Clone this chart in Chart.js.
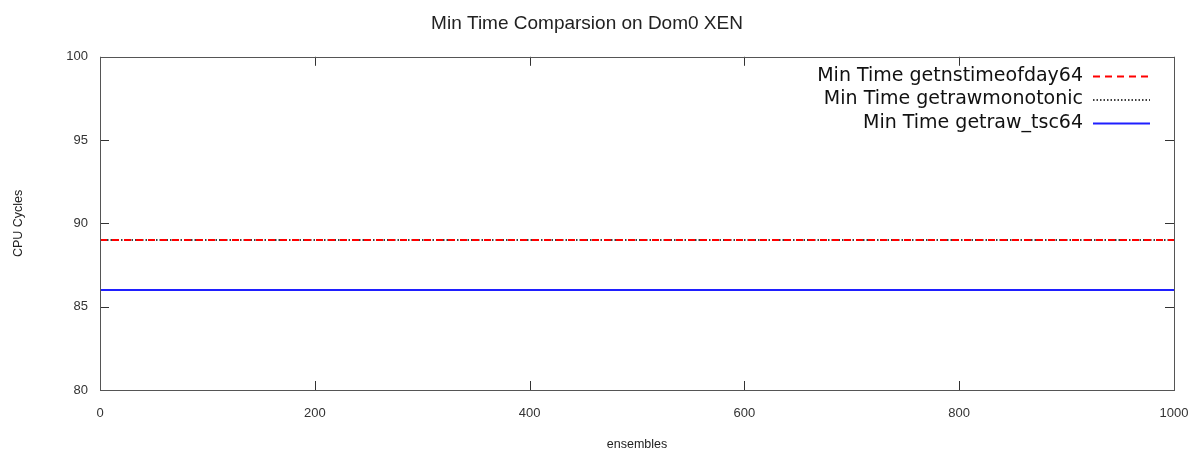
<!DOCTYPE html>
<html>
<head>
<meta charset="utf-8">
<script src="https://cdn.jsdelivr.net/npm/chart.js@4"></script>
<style>
  html, body { margin: 0; padding: 0; background: #fff; }
  #wrap { width: 1191px; height: 452px; }
</style>
</head>
<body>
<div id="wrap"><canvas id="chart" width="1191" height="452"></canvas></div>
<script>
// chart data
const ensembles = [0, 200, 400, 600, 800, 1000];
const nstimeofday = [89, 89, 89, 89, 89, 89];
const rawMonotonic = [89, 89, 89, 89, 89, 89];
const rawTsc = [86, 86, 86, 86, 86, 86];
const seriesNames = ['Min Time getnstimeofday64', 'Min Time getrawmonotonic', 'Min Time getraw_tsc64'];
const xTicks = [0, 200, 400, 600, 800, 1000];
const yTicks = [80, 85, 90, 95, 100];

const toPoints = (vals) => vals.map((v, i) => ({ x: ensembles[i], y: v }));

// gnuplot style frame: box + inward ticks on all four sides
const framePlugin = {
  id: 'frame',
  afterDatasetsDraw(chart) {
    const { ctx, chartArea: a, scales } = chart;
    ctx.save();
    ctx.strokeStyle = '#333';
    ctx.lineWidth = 1;
    ctx.beginPath();
    xTicks.forEach(t => {
      const px = Math.round(scales.x.getPixelForValue(t)) + 0.5;
      ctx.moveTo(px, a.bottom); ctx.lineTo(px, a.bottom - 9);
      ctx.moveTo(px, a.top); ctx.lineTo(px, a.top + 9);
    });
    yTicks.forEach(t => {
      const py = Math.round(scales.y.getPixelForValue(t)) + 0.5;
      ctx.moveTo(a.left, py); ctx.lineTo(a.left + 9, py);
      ctx.moveTo(a.right, py); ctx.lineTo(a.right - 9, py);
    });
    ctx.stroke();
    ctx.strokeStyle = '#555';
    ctx.strokeRect(Math.round(a.left) + 0.5, Math.round(a.top) + 0.5,
      Math.round(a.right - a.left), Math.round(a.bottom - a.top));
    ctx.restore();
  }
};

// legend drawn inside the plot, text right aligned with sample line after it
const keyPlugin = {
  id: 'key',
  afterDatasetsDraw(chart) {
    const { ctx } = chart;
    ctx.save();
    ctx.font = '19px "DejaVu Sans"';
    ctx.textAlign = 'right';
    ctx.textBaseline = 'middle';
    chart.data.datasets.forEach((ds, i) => {
      const y = 76 + i * 23.5;
      ctx.fillStyle = '#111';
      ctx.fillText(ds.label, 1083, y);
      ctx.beginPath();
      ctx.strokeStyle = ds.borderColor;
      ctx.lineWidth = ds.borderWidth;
      ctx.setLineDash(ds.borderDash || []);
      ctx.moveTo(1093, y + 0.5);
      ctx.lineTo(1150, y + 0.5);
      ctx.stroke();
    });
    ctx.restore();
  }
};

new Chart(document.getElementById('chart').getContext('2d'), {
  type: 'line',
  data: {
    datasets: [
      { label: seriesNames[0], data: toPoints(nstimeofday), borderColor: '#ff0000', borderWidth: 2, borderDash: [7, 5], pointRadius: 0 },
      { label: seriesNames[1], data: toPoints(rawMonotonic), borderColor: '#000000', borderWidth: 1.5, borderDash: [1.5, 2], pointRadius: 0 },
      { label: seriesNames[2], data: toPoints(rawTsc), borderColor: '#1f1fff', borderWidth: 2, pointRadius: 0 }
    ]
  },
  options: {
    responsive: false,
    animation: false,
    layout: { padding: { left: 0, right: 17, top: 0, bottom: 0 } },
    plugins: {
      legend: { display: false },
      tooltip: { enabled: false },
      title: {
        display: true,
        text: 'Min Time Comparsion on Dom0 XEN',
        color: '#222',
        font: { family: '"Liberation Sans", Arial', size: 19, weight: 'normal' },
        padding: { top: 12, bottom: 22 }
      }
    },
    scales: {
      x: {
        type: 'linear',
        min: 0, max: 1000,
        afterBuildTicks: (s) => { s.ticks = xTicks.map(v => ({ value: v })); },
        afterFit: (s) => { s.height = 62; s.paddingLeft = 0; s.paddingRight = 0; },
        grid: { display: false, drawTicks: false },
        border: { display: false },
        ticks: { color: '#333', padding: 16, maxRotation: 0, callback: (v) => String(v), font: { family: '"Liberation Sans", Arial', size: 13 } },
        title: { display: true, text: 'ensembles', color: '#222', padding: { top: 14, bottom: 0 }, font: { family: '"Liberation Sans", Arial', size: 12.5 } }
      },
      y: {
        min: 80, max: 100,
        afterBuildTicks: (s) => { s.ticks = yTicks.map(v => ({ value: v })); },
        afterFit: (s) => { s.width = 100; },
        grid: { display: false, drawTicks: false },
        border: { display: false },
        ticks: { color: '#333', padding: 12, font: { family: '"Liberation Sans", Arial', size: 13 } },
        title: { display: true, text: 'CPU Cycles', color: '#222', padding: { top: 11, bottom: 0 }, font: { family: '"Liberation Sans", Arial', size: 12.5 } }
      }
    }
  },
  plugins: [framePlugin, keyPlugin]
});
</script>
</body>
</html>
